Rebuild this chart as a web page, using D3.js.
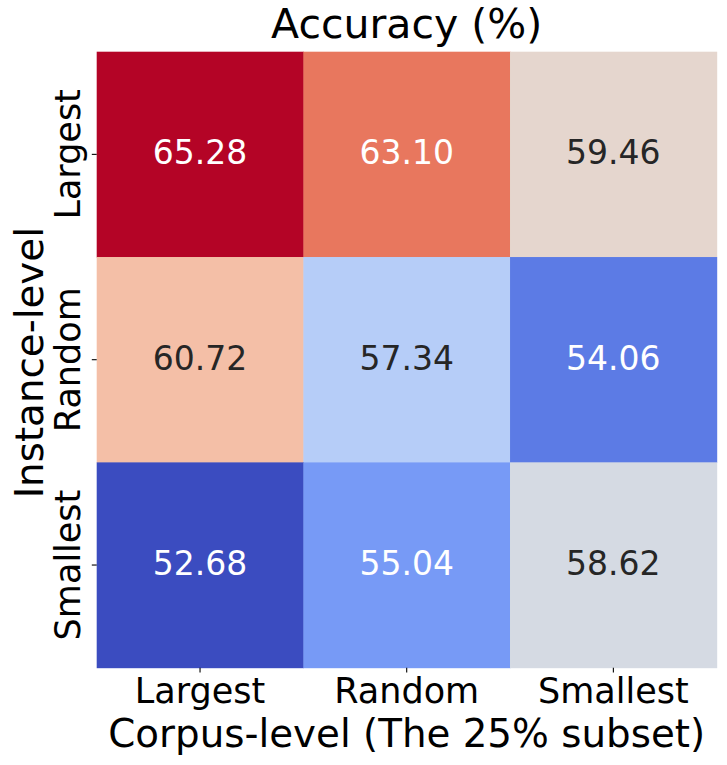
<!DOCTYPE html>
<html>
<head>
<meta charset="utf-8">
<script src="https://cdn.jsdelivr.net/npm/d3@7"></script>
<style>
  body { margin: 0; background: #fff; }
  text { font-family: "DejaVu Sans", sans-serif; }
</style>
</head>
<body>
<script>
var rowLabels = ["Largest", "Random", "Smallest"];
var colLabels = ["Largest", "Random", "Smallest"];
var values = [
  [65.28, 63.10, 59.46],
  [60.72, 57.34, 54.06],
  [52.68, 55.04, 58.62]
];
var titleText = "Accuracy (%)";
var xLabelText = "Corpus-level (The 25% subset)";
var yLabelText = "Instance-level";

// matplotlib coolwarm sampled at 0, 0.1, ... 1
var coolwarm = ["#3b4cc0", "#5977e3", "#7b9ff9", "#9ebeff", "#c0d4f5", "#dddcdc",
                "#f2cbb7", "#f7ac8e", "#ee8468", "#d65244", "#b40426"];

var W = 727, H = 765;
var pLeft = 96.7, pRight = 716.7, pTop = 51.7, pBottom = 667.7;

var svg = d3.select("body").append("svg").attr("width", W).attr("height", H);

var cells = [];
values.forEach(function(row, i) {
  row.forEach(function(v, j) { cells.push({r: rowLabels[i], c: colLabels[j], v: v}); });
});

var x = d3.scaleBand().domain(colLabels).range([pLeft, pRight]);
var y = d3.scaleBand().domain(rowLabels).range([pTop, pBottom]);

var vmin = d3.min(cells, function(d) { return d.v; });
var vmax = d3.max(cells, function(d) { return d.v; });
var t = d3.scaleLinear().domain([vmin, vmax]).range([0, 1]);
var cmap = d3.scaleLinear()
  .domain(d3.range(coolwarm.length).map(function(i) { return i / (coolwarm.length - 1); }))
  .range(coolwarm)
  .interpolate(d3.interpolateRgb);
function color(v) { return cmap(t(v)); }

function lum(c) {
  var rgb = d3.rgb(c);
  var ch = [rgb.r, rgb.g, rgb.b].map(function(u) {
    u = u / 255;
    return u <= 0.03928 ? u / 12.92 : Math.pow((u + 0.055) / 1.055, 2.4);
  });
  return 0.2126 * ch[0] + 0.7152 * ch[1] + 0.0722 * ch[2];
}

svg.selectAll("rect.cell")
  .data(cells)
  .enter().append("rect")
  .attr("class", "cell")
  .attr("x", function(d) { return x(d.c); })
  .attr("y", function(d) { return y(d.r); })
  .attr("width", x.bandwidth() + 0.5)
  .attr("height", y.bandwidth() + 0.5)
  .attr("fill", function(d) { return color(d.v); });

svg.selectAll("text.annot")
  .data(cells)
  .enter().append("text")
  .attr("class", "annot")
  .attr("x", function(d) { return x(d.c) + x.bandwidth() / 2; })
  .attr("y", function(d) { return y(d.r) + y.bandwidth() / 2 - 1.5; })
  .attr("text-anchor", "middle")
  .attr("dominant-baseline", "central")
  .attr("font-size", 33)
  .attr("fill", function(d) { return lum(color(d.v)) > 0.408 ? "#262626" : "#ffffff"; })
  .text(function(d) { return d.v.toFixed(2); });

// axes
var xAxis = svg.append("g")
  .attr("transform", "translate(0," + pBottom + ")")
  .call(d3.axisBottom(x).tickSize(4.9));
xAxis.select(".domain").remove();
xAxis.selectAll(".tick line").attr("stroke", "#000").attr("stroke-width", 1.1);
xAxis.selectAll(".tick text")
  .attr("font-size", 35)
  .attr("font-family", "DejaVu Sans")
  .attr("fill", "#000")
  .attr("dy", null)
  .attr("y", 35.5);

var yAxis = svg.append("g")
  .attr("transform", "translate(" + pLeft + ",0)")
  .call(d3.axisLeft(y).tickSize(4.9));
yAxis.select(".domain").remove();
yAxis.selectAll(".tick line").attr("stroke", "#000").attr("stroke-width", 1.1);
yAxis.selectAll(".tick text")
  .attr("font-size", 35)
  .attr("font-family", "DejaVu Sans")
  .attr("fill", "#000")
  .attr("text-anchor", "middle")
  .attr("x", null)
  .attr("dy", null)
  .attr("transform", "translate(-16.5,0) rotate(-90)");

svg.append("text")
  .attr("x", (pLeft + pRight) / 2)
  .attr("y", 37.7)
  .attr("text-anchor", "middle")
  .attr("font-size", 41)
  .attr("fill", "#000")
  .text(titleText);

svg.append("text")
  .attr("x", (pLeft + pRight) / 2)
  .attr("y", 746.5)
  .attr("text-anchor", "middle")
  .attr("font-size", 38.8)
  .attr("fill", "#000")
  .text(xLabelText);

svg.append("text")
  .attr("transform", "translate(43," + ((pTop + pBottom) / 2 + 3) + ") rotate(-90)")
  .attr("text-anchor", "middle")
  .attr("font-size", 38.8)
  .attr("fill", "#000")
  .text(yLabelText);
</script>
</body>
</html>
